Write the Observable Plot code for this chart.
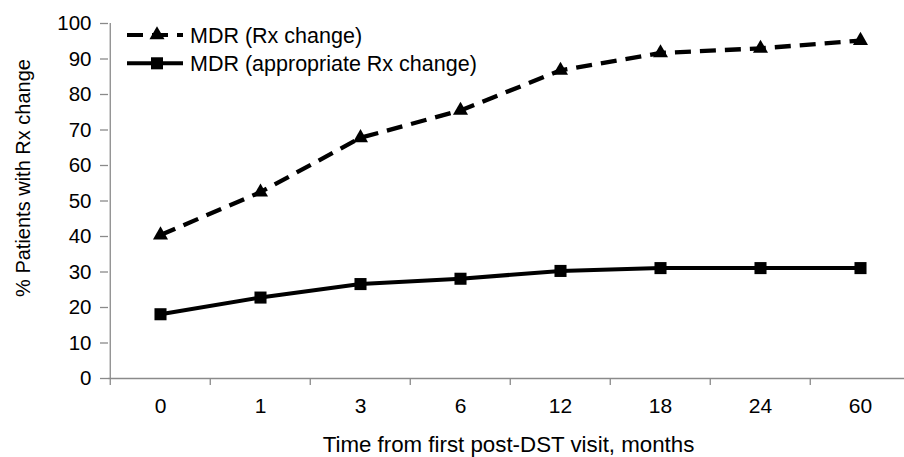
<!DOCTYPE html>
<html>
<head>
<meta charset="utf-8">
<script src="https://cdn.jsdelivr.net/npm/d3@7"></script>
<script src="https://cdn.jsdelivr.net/npm/@observablehq/plot@0.6"></script>
<style>
  html, body { margin: 0; padding: 0; background: #fff; }
  #wrap { position: relative; width: 904px; height: 457px; overflow: hidden; }
  #legend { position: absolute; left: 0; top: 0; pointer-events: none; }
</style>
</head>
<body>
<div id="wrap"></div>
<script>
// ---- data ----
const months = ["0", "1", "3", "6", "12", "18", "24", "60"];
const rxChange = [40.4, 52.5, 67.8, 75.5, 86.8, 91.7, 93.0, 95.2];
const appropriateRxChange = [18.1, 22.8, 26.6, 28.1, 30.3, 31.1, 31.1, 31.1];
const seriesNames = ["MDR (Rx change)", "MDR (appropriate Rx change)"];
const yTicks = [0, 10, 20, 30, 40, 50, 60, 70, 80, 90, 100];
const xTitle = "Time from first post-DST visit, months";
const yTitle = "% Patients with Rx change";

const rows = months.map((m, i) => ({month: m, rx: rxChange[i], app: appropriateRxChange[i]}));

const font = "'Liberation Sans', Arial, Helvetica, sans-serif";
const axisGray = "#8a8a8a";
const halfStep = -50.25;

const chart = Plot.plot({
  width: 904,
  height: 457,
  marginLeft: 108,
  marginRight: 0,
  marginTop: 23,
  marginBottom: 79,
  style: {fontFamily: font, background: "white", color: "black", overflow: "visible"},
  x: {type: "point", domain: months, range: [108, 912], padding: 0.5},
  y: {domain: [0, 100]},
  marks: [
    Plot.ruleY([0], {stroke: axisGray, strokeWidth: 1.3}),
    Plot.ruleX([months[0]], {dx: halfStep, stroke: axisGray, strokeWidth: 1.3}),
    Plot.axisY({ticks: yTicks, tickSize: 8, tickPadding: 9, stroke: axisGray, fill: "black", fontSize: 20.5, label: null, strokeWidth: 1.3}),
    Plot.axisX({tickSize: 0, tickPadding: 20, fontSize: 21, fill: "black", label: null}),
    Plot.axisX({tickSize: 7, tickPadding: 0, tickFormat: () => "", dx: halfStep, stroke: axisGray, label: null, strokeWidth: 1.3}),
    Plot.line(rows, {x: "month", y: "rx", stroke: "black", strokeWidth: 4.3, strokeDasharray: "16,9", strokeLinecap: "butt"}),
    Plot.dot(rows, {x: "month", y: "rx", symbol: "triangle", r: 5.6, fill: "black", stroke: "none"}),
    Plot.line(rows, {x: "month", y: "app", stroke: "black", strokeWidth: 4}),
    Plot.dot(rows, {x: "month", y: "app", symbol: "square", r: 6.8, fill: "black", stroke: "none"}),
    Plot.text([xTitle], {text: d => d, frameAnchor: "bottom", textAnchor: "middle", dx: 2, dy: 66.5, fontSize: 22.3, lineAnchor: "middle", fill: "black"}),
    Plot.text([yTitle], {text: d => d, frameAnchor: "left", textAnchor: "middle", rotate: -90, dx: -85, dy: -23, fontSize: 20, lineAnchor: "middle", fill: "black"})
  ]
});

const wrap = document.getElementById("wrap");
wrap.appendChild(chart);

// ---- legend overlay ----
const legendStyles = [
  {dash: "16,9", symbol: d3.symbolTriangle, r: 5.6},
  {dash: null, symbol: d3.symbolSquare, r: 6.8}
];
const legend = d3.select(wrap).append("svg")
  .attr("id", "legend").attr("width", 904).attr("height", 120);
seriesNames.forEach((name, i) => {
  const st = legendStyles[i];
  const g = legend.append("g").attr("transform", `translate(0,${35 + i * 28.3})`);
  g.append("line").attr("x1", 127).attr("x2", 183).attr("y1", 0).attr("y2", 0)
    .attr("stroke", "black").attr("stroke-width", 4)
    .attr("stroke-dasharray", st.dash);
  g.append("path").attr("transform", "translate(157,0)")
    .attr("d", d3.symbol(st.symbol, Math.PI * st.r * st.r)()).attr("fill", "black");
  g.append("text").attr("x", 190).attr("y", 0).attr("dy", "0.35em")
    .attr("font-family", font).attr("font-size", 21.5).attr("fill", "black").text(name);
});
</script>
</body>
</html>
